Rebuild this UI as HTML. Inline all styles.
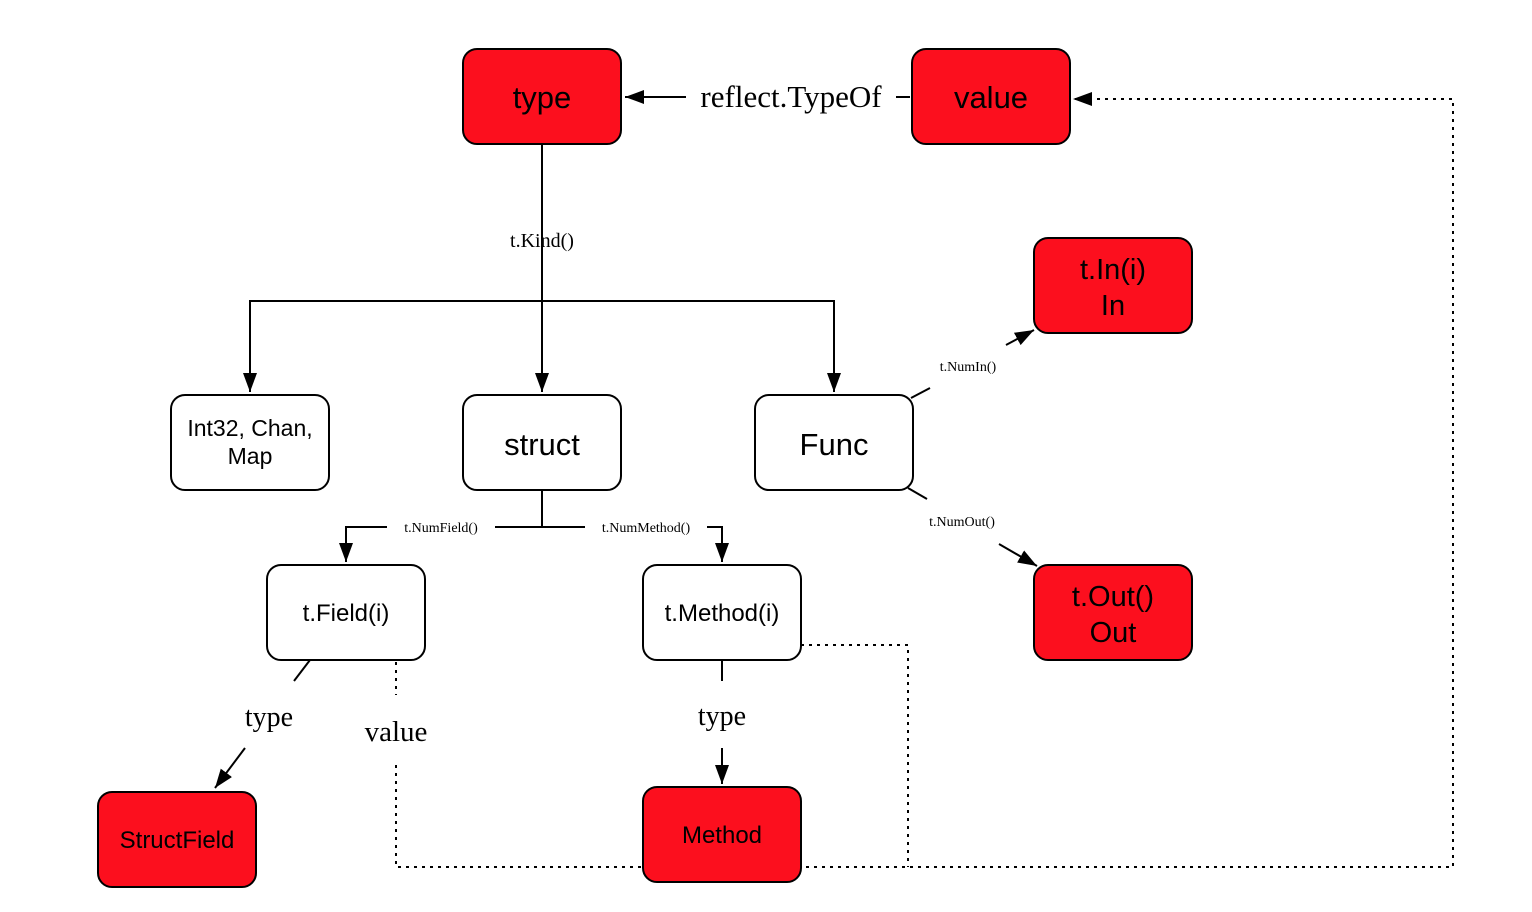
<!DOCTYPE html>
<html><head><meta charset="utf-8"><style>
body{margin:0;background:#fff;}
svg{display:block;}
.b{stroke:#000;stroke-width:2;}
.s{font-family:"Liberation Sans",sans-serif;text-anchor:middle;fill:#000;}
.r{font-family:"Liberation Serif",serif;text-anchor:middle;fill:#000;}
</style></head><body>
<svg width="1532" height="912" viewBox="0 0 1532 912" xmlns="http://www.w3.org/2000/svg">
<defs>
<marker id="A" markerWidth="20" markerHeight="14" refX="19" refY="7" orient="auto" markerUnits="userSpaceOnUse"><path d="M0,0 L19,7 L0,14 z" fill="#000"/></marker></defs>
<g fill="none" stroke="#000" stroke-width="2">
<line x1="910" y1="97" x2="896" y2="97"/>
<line x1="686" y1="97" x2="625" y2="97" marker-end="url(#A)"/>
<line x1="542" y1="144" x2="542" y2="392" marker-end="url(#A)"/>
<polyline points="250,392 250,301 834,301 834,392" marker-end="url(#A)"/>
<line x1="250" y1="320" x2="250" y2="392" marker-end="url(#A)"/>
<line x1="542" y1="490" x2="542" y2="527"/>
<line x1="495" y1="527" x2="585" y2="527"/>
<polyline points="387,527 346,527 346,562" marker-end="url(#A)"/>
<polyline points="707,527 722,527 722,562" marker-end="url(#A)"/>
<line x1="911" y1="398" x2="930" y2="388"/>
<line x1="1006" y1="345" x2="1034" y2="330" marker-end="url(#A)"/>
<line x1="908" y1="488" x2="927" y2="499"/>
<line x1="999" y1="544" x2="1037" y2="566" marker-end="url(#A)"/>
<line x1="310" y1="660" x2="294" y2="681"/>
<line x1="245" y1="748" x2="215" y2="788" marker-end="url(#A)"/>
<line x1="722" y1="660" x2="722" y2="681"/>
<line x1="722" y1="748" x2="722" y2="784" marker-end="url(#A)"/>
<g stroke-dasharray="3,5">
<line x1="396" y1="662" x2="396" y2="695"/>
<polyline points="396,765 396,867 1453,867 1453,99 1075,99"/>
<polyline points="801,645 908,645 908,867"/>
</g>
</g>
<path d="M1073,99 L1092,92 L1092,106 z" fill="#000"/>
<g class="b">
<rect x="463" y="49" width="158" height="95" rx="14" fill="#fc0f1e"/>
<rect x="912" y="49" width="158" height="95" rx="14" fill="#fc0f1e"/>
<rect x="171" y="395" width="158" height="95" rx="14" fill="#fff"/>
<rect x="463" y="395" width="158" height="95" rx="14" fill="#fff"/>
<rect x="755" y="395" width="158" height="95" rx="14" fill="#fff"/>
<rect x="1034" y="238" width="158" height="95" rx="14" fill="#fc0f1e"/>
<rect x="1034" y="565" width="158" height="95" rx="14" fill="#fc0f1e"/>
<rect x="267" y="565" width="158" height="95" rx="14" fill="#fff"/>
<rect x="643" y="565" width="158" height="95" rx="14" fill="#fff"/>
<rect x="98" y="792" width="158" height="95" rx="14" fill="#fc0f1e"/>
<rect x="643" y="787" width="158" height="95" rx="14" fill="#fc0f1e"/>
</g>
<text class="s" x="542" y="108" font-size="31">type</text>
<text class="s" x="991" y="108" font-size="31">value</text>
<text class="s" x="250" y="436" font-size="23">Int32, Chan,</text>
<text class="s" x="250" y="464" font-size="23">Map</text>
<text class="s" x="542" y="455" font-size="31">struct</text>
<text class="s" x="834" y="455" font-size="31">Func</text>
<text class="s" x="1113" y="279" font-size="29">t.In(i)</text>
<text class="s" x="1113" y="315" font-size="29">In</text>
<text class="s" x="1113" y="606" font-size="29">t.Out()</text>
<text class="s" x="1113" y="642" font-size="29">Out</text>
<text class="s" x="346" y="621" font-size="24">t.Field(i)</text>
<text class="s" x="722" y="621" font-size="24">t.Method(i)</text>
<text class="s" x="177" y="848" font-size="24">StructField</text>
<text class="s" x="722" y="843" font-size="24">Method</text>
<text class="r" x="791" y="107" font-size="31">reflect.TypeOf</text>
<text class="r" x="542" y="247" font-size="20">t.Kind()</text>
<text class="r" x="441" y="532" font-size="14">t.NumField()</text>
<text class="r" x="646" y="532" font-size="14">t.NumMethod()</text>
<text class="r" x="968" y="371" font-size="14">t.NumIn()</text>
<text class="r" x="962" y="526" font-size="14">t.NumOut()</text>
<text class="r" x="269" y="726" font-size="28">type</text>
<text class="r" x="396" y="741" font-size="29">value</text>
<text class="r" x="722" y="725" font-size="28">type</text>
</svg>
</body></html>
